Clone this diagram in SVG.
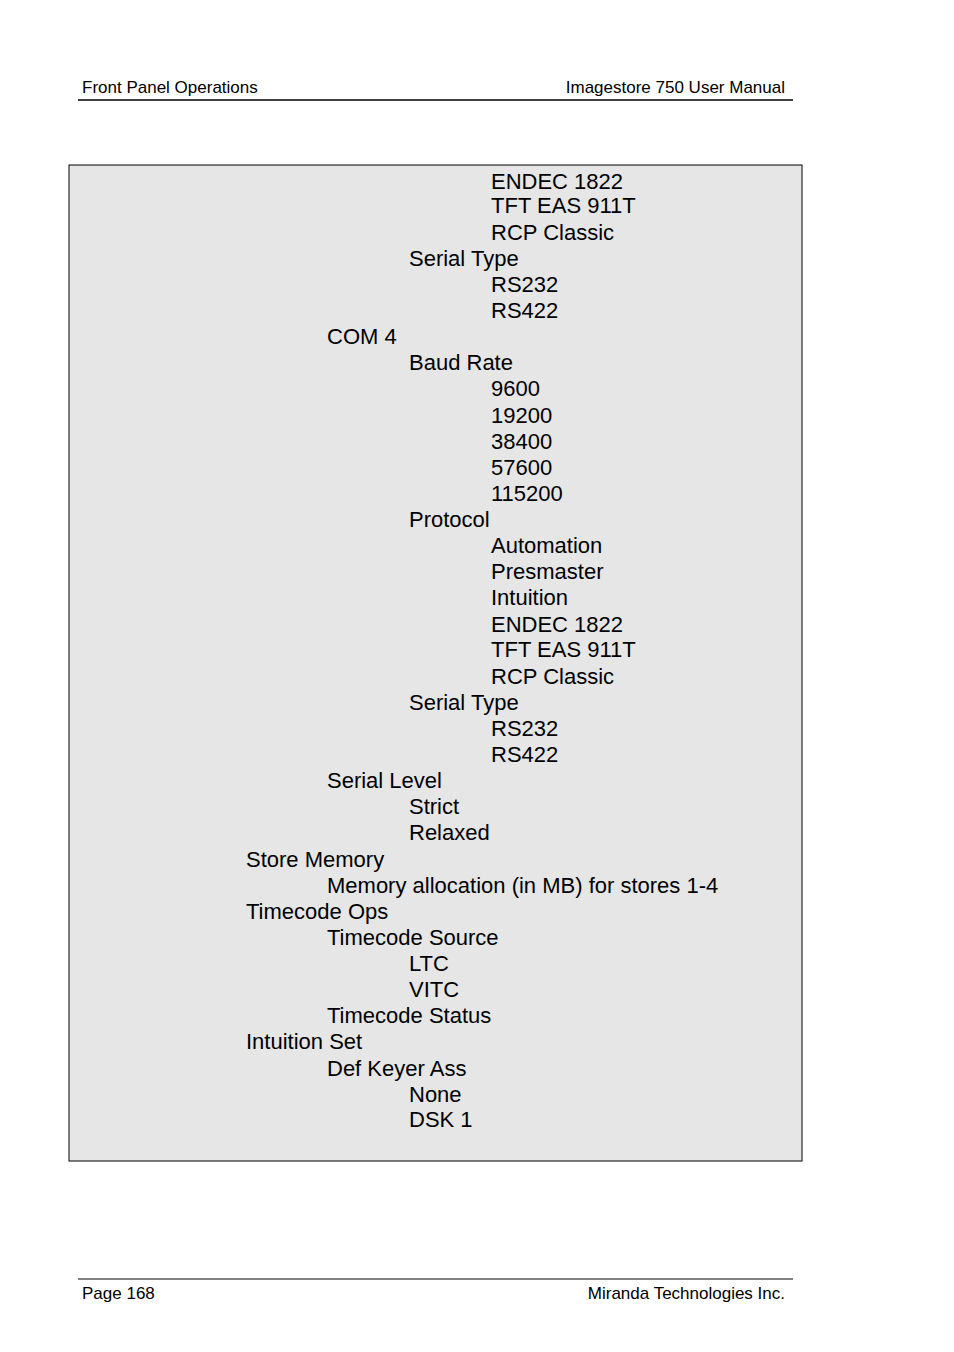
<svg xmlns="http://www.w3.org/2000/svg" width="954" height="1352" viewBox="0 0 954 1352">
<style>
.h{font-family:"Liberation Sans",Arial,sans-serif;font-size:17px;fill:#000}
.t{font-family:"Liberation Sans",Arial,sans-serif;font-size:22px;fill:#000}
</style>
<rect width="954" height="1352" fill="#fff"/>
<text class="h" x="82" y="93">Front Panel Operations</text>
<text class="h" x="785" y="93" text-anchor="end">Imagestore 750 User Manual</text>
<line x1="78" y1="100" x2="793" y2="100" stroke="#000" stroke-width="1.5"/>
<rect x="69" y="165" width="733" height="996" fill="#e6e6e6" stroke="#000" stroke-width="1"/>
<g class="t">
<text class="t" x="491" y="189">ENDEC 1822</text>
<text class="t" x="491" y="213">TFT EAS 911T</text>
<text class="t" x="491" y="240">RCP Classic</text>
<text class="t" x="409" y="266">Serial Type</text>
<text class="t" x="491" y="292">RS232</text>
<text class="t" x="491" y="318">RS422</text>
<text class="t" x="327" y="344">COM 4</text>
<text class="t" x="409" y="370">Baud Rate</text>
<text class="t" x="491" y="396">9600</text>
<text class="t" x="491" y="423">19200</text>
<text class="t" x="491" y="449">38400</text>
<text class="t" x="491" y="475">57600</text>
<text class="t" x="491" y="501">115200</text>
<text class="t" x="409" y="527">Protocol</text>
<text class="t" x="491" y="553">Automation</text>
<text class="t" x="491" y="579">Presmaster</text>
<text class="t" x="491" y="605">Intuition</text>
<text class="t" x="491" y="632">ENDEC 1822</text>
<text class="t" x="491" y="657">TFT EAS 911T</text>
<text class="t" x="491" y="684">RCP Classic</text>
<text class="t" x="409" y="710">Serial Type</text>
<text class="t" x="491" y="736">RS232</text>
<text class="t" x="491" y="762">RS422</text>
<text class="t" x="327" y="788">Serial Level</text>
<text class="t" x="409" y="814">Strict</text>
<text class="t" x="409" y="840">Relaxed</text>
<text class="t" x="246" y="867">Store Memory</text>
<text class="t" x="327" y="893">Memory allocation (in MB) for stores 1-4</text>
<text class="t" x="246" y="919">Timecode Ops</text>
<text class="t" x="327" y="945">Timecode Source</text>
<text class="t" x="409" y="971">LTC</text>
<text class="t" x="409" y="997">VITC</text>
<text class="t" x="327" y="1023">Timecode Status</text>
<text class="t" x="246" y="1049">Intuition Set</text>
<text class="t" x="327" y="1076">Def Keyer Ass</text>
<text class="t" x="409" y="1102">None</text>
<text class="t" x="409" y="1127">DSK 1</text>
</g>
<line x1="78" y1="1279" x2="793" y2="1279" stroke="#000" stroke-width="1"/>
<text class="h" x="82" y="1299">Page 168</text>
<text class="h" x="785" y="1299" text-anchor="end">Miranda Technologies Inc.</text>
</svg>
